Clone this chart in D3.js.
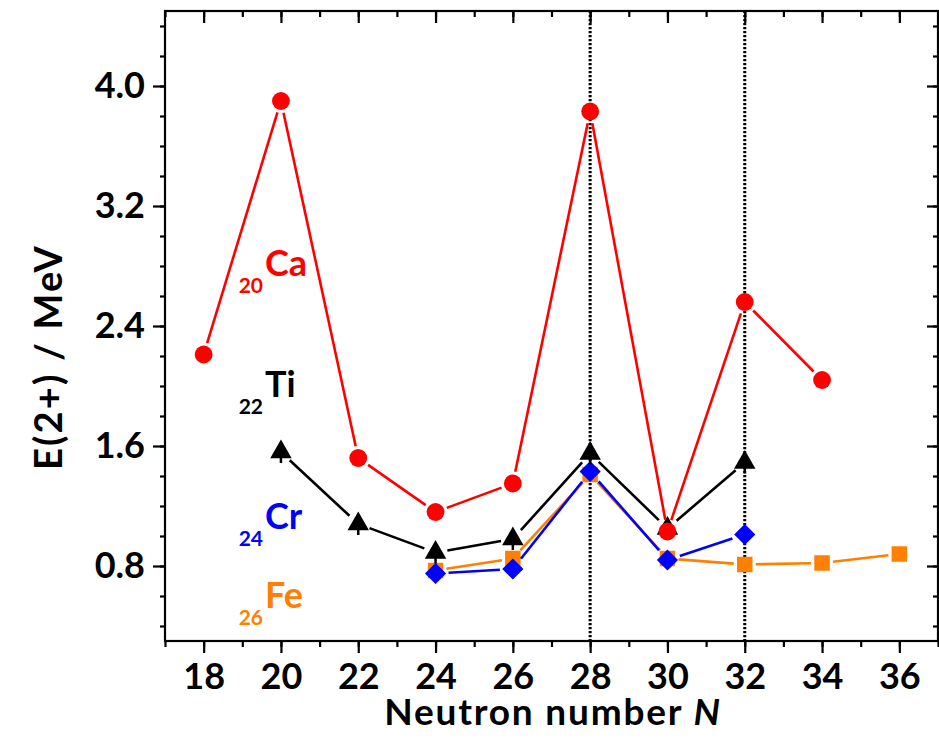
<!DOCTYPE html>
<html>
<head>
<meta charset="utf-8">
<script src="https://d3js.org/d3.v7.min.js"></script>
<style>
body { margin: 0; background: #fff; }
text { font-family: Lato, "Open Sans", sans-serif; font-weight: bold; }
</style>
</head>
<body>
<div id="chart"></div>
<script>
// data (E(2+) in MeV vs neutron number N)
var caN = [18, 20, 22, 24, 26, 28, 30, 32, 34];
var caE = [2.21, 3.90, 1.52, 1.16, 1.35, 3.83, 1.03, 2.56, 2.04];

var tiN = [20, 22, 24, 26, 28, 30, 32];
var tiE = [1.56, 1.08, 0.89, 0.98, 1.55, 1.05, 1.49];

var crN = [24, 26, 28, 30, 32];
var crE = [0.75, 0.78, 1.43, 0.84, 1.01];

var feN = [24, 26, 28, 30, 32, 34, 36];
var feE = [0.77, 0.85, 1.41, 0.85, 0.81, 0.82, 0.88];

var xTicks = [18, 20, 22, 24, 26, 28, 30, 32, 34, 36];
var yTicks = [0.8, 1.6, 2.4, 3.2, 4.0];
var magicN = [28, 32];

var width = 939;
var height = 739;
// plot box (note: "top" is reserved by window, so plotT etc.)
var plotL = 165, plotR = 938, plotT = 11, plotB = 641;

var svg = d3.select("#chart")
	.append("svg")
	.attr("width", width)
	.attr("height", height);

var x = d3.scaleLinear().domain([17, 37]).range([plotL, plotR]);
var y = d3.scaleLinear().domain([0.3, 4.5]).range([plotB, plotT]);

// minor ticks : every 1 on x, every 0.2 on y
var xMinor = d3.range(17, 37.01, 1);
var yMinor = d3.range(0.4, 4.45, 0.2);

// dotted lines at N=28 and N=32
svg.selectAll(".magic")
	.data(magicN)
	.enter()
	.append("line")
	.attr("x1", function(d){ return x(d); })
	.attr("x2", function(d){ return x(d); })
	.attr("y1", plotT)
	.attr("y2", plotB)
	.attr("stroke", "#000")
	.attr("stroke-width", 3)
	.attr("stroke-dasharray", "2.2,1.8");

// axes (bottom / left outward, top / right inward)
svg.append("g")
	.attr("transform", "translate(0," + plotB + ")")
	.call(d3.axisBottom(x).tickValues(xMinor).tickSize(6).tickFormat(""));
svg.append("g")
	.attr("transform", "translate(0," + plotB + ")")
	.call(d3.axisBottom(x).tickValues(xTicks).tickSize(12).tickPadding(10).tickFormat(d3.format("d")))
	.attr("class", "xaxis");
svg.append("g")
	.attr("transform", "translate(0," + plotT + ")")
	.call(d3.axisBottom(x).tickValues(xMinor).tickSize(6).tickFormat(""));
svg.append("g")
	.attr("transform", "translate(0," + plotT + ")")
	.call(d3.axisBottom(x).tickValues(xTicks).tickSize(12).tickFormat(""));

svg.append("g")
	.attr("transform", "translate(" + plotL + ",0)")
	.call(d3.axisLeft(y).tickValues(yMinor).tickSize(5).tickFormat(""));
svg.append("g")
	.attr("transform", "translate(" + plotL + ",0)")
	.call(d3.axisLeft(y).tickValues(yTicks).tickSize(12).tickPadding(8).tickFormat(d3.format(".1f")))
	.attr("class", "yaxis");
svg.append("g")
	.attr("transform", "translate(" + plotR + ",0)")
	.call(d3.axisLeft(y).tickValues(yMinor).tickSize(5).tickFormat(""));
svg.append("g")
	.attr("transform", "translate(" + plotR + ",0)")
	.call(d3.axisLeft(y).tickValues(yTicks).tickSize(11).tickFormat(""));

svg.selectAll(".domain").remove();
svg.selectAll(".tick line").attr("stroke", "#000").attr("stroke-width", 2.2);
svg.selectAll(".xaxis text, .yaxis text")
	.attr("fill", "#000")
	.style("font-size", "36px")
	.style("font-family", "Lato, sans-serif")
	.style("font-weight", "bold");
svg.selectAll(".xaxis text").attr("dy", "0.71em");

// frame
svg.append("rect")
	.attr("x", plotL).attr("y", plotT)
	.attr("width", plotR - plotL).attr("height", plotB - plotT)
	.attr("fill", "none")
	.attr("stroke", "#000")
	.attr("stroke-width", 2.2);

// axis titles
var xt = svg.append("text")
	.attr("x", 553).attr("y", 725)
	.attr("text-anchor", "middle")
	.style("font-size", "37px")
	.style("letter-spacing", "1.8px");
xt.append("tspan").text("Neutron number ");
xt.append("tspan").style("font-style", "italic").text("N");

svg.append("text")
	.attr("transform", "translate(62,357) rotate(-90)")
	.attr("text-anchor", "middle")
	.style("font-size", "38px")
	.style("letter-spacing", "2.2px")
	.text("E(2+) / MeV");

// series : drawn so that Ca ends up on top
var series = [
	{N: feN, E: feE, color: "#ff8000", sym: d3.symbolSquare, size: 240, r: 8, rot: 0},
	{N: crN, E: crE, color: "#0000ff", sym: d3.symbolSquare, size: 225, r: 10, rot: 45},
	{N: tiN, E: tiE, color: "#000000", sym: d3.symbolTriangle, size: 200, r: 9, rot: 0},
	{N: caN, E: caE, color: "#ff0000", sym: d3.symbolCircle, size: 250, r: 9, rot: 0}
];

series.forEach(function(s) {
	var pts = s.N.map(function(n, i){ return {px: x(n), py: y(s.E[i])}; });
	var segs = [];
	for (var i = 0; i < pts.length - 1; i++) {
		var a = pts[i], b = pts[i + 1];
		var dx = b.px - a.px, dy = b.py - a.py;
		var len = Math.sqrt(dx * dx + dy * dy);
		var g = s.r + 3; // gap to symbol
		if (len <= 2 * g) continue;
		segs.push({
			x1: a.px + dx * g / len, y1: a.py + dy * g / len,
			x2: b.px - dx * g / len, y2: b.py - dy * g / len
		});
	}
	var grp = svg.append("g");
	grp.selectAll("line")
		.data(segs)
		.enter()
		.append("line")
		.attr("x1", function(d){ return d.x1; })
		.attr("y1", function(d){ return d.y1; })
		.attr("x2", function(d){ return d.x2; })
		.attr("y2", function(d){ return d.y2; })
		.attr("stroke", s.color)
		.attr("stroke-width", 2.6);

	grp.selectAll("path")
		.data(pts)
		.enter()
		.append("path")
		.attr("transform", function(d){ return "translate(" + d.px + "," + d.py + ") rotate(" + s.rot + ")"; })
		.attr("d", d3.symbol().type(s.sym).size(s.size))
		.attr("fill", s.color);

	// little error bars on the triangles
	if (s.sym === d3.symbolTriangle) {
		grp.selectAll(".err")
			.data(pts)
			.enter()
			.append("path")
			.attr("d", function(d){
				return "M" + d.px + "," + (d.py - 2) + "V" + (d.py + 11) +
					"M" + (d.px - 7) + "," + (d.py + 2) + "H" + (d.px + 7);
			})
			.attr("stroke", "#000")
			.attr("stroke-width", 2.5)
			.attr("fill", "none");
	}
});

// element labels
var labels = [
	{z: "20", el: "Ca", color: "#ff0000", yb: 276},
	{z: "22", el: "Ti", color: "#000000", yb: 397},
	{z: "24", el: "Cr", color: "#0000ff", yb: 529},
	{z: "26", el: "Fe", color: "#ff8000", yb: 608}
];
labels.forEach(function(l) {
	svg.append("text")
		.attr("x", 263).attr("y", l.yb + 17)
		.attr("text-anchor", "end")
		.attr("fill", l.color)
		.style("font-size", "21px")
		.text(l.z);
	svg.append("text")
		.attr("x", 265).attr("y", l.yb)
		.attr("fill", l.color)
		.style("font-size", "36px")
		.text(l.el);
});
</script>
</body>
</html>
